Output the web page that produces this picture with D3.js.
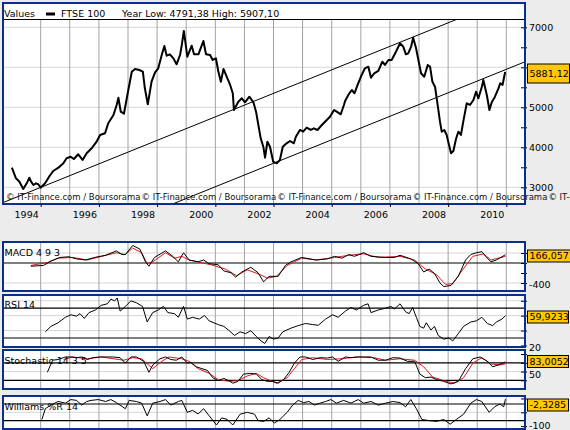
<!DOCTYPE html>
<html>
<head>
<meta charset="utf-8">
<script src="https://cdn.jsdelivr.net/npm/d3@7"></script>
<style>
  body { margin: 0; background: #ececec; }
  svg { display: block; font-family: "DejaVu Sans", sans-serif; }
  .tick text { font-family: "DejaVu Sans", sans-serif; font-size: 9.5px; fill: #000; }
</style>
</head>
<body>
<script>
// dates are decimal years
const priceDates = [1994.01,1994.15,1994.27,1994.40,1994.52,1994.61,1994.67,1994.75,1994.84,1994.92,
  1995.00,1995.15,1995.29,1995.43,1995.61,1995.78,1995.89,1996.03,1996.14,1996.29,1996.44,1996.58,1996.75,1996.92,
  1997.04,1997.21,1997.32,1997.50,1997.61,1997.67,1997.75,1997.86,1997.99,1998.13,1998.24,1998.39,1998.51,1998.58,
  1998.68,1998.81,1998.93,1999.04,1999.16,1999.25,1999.33,1999.44,1999.56,1999.67,1999.79,1999.85,1999.92,2000.04,
  2000.19,2000.27,2000.42,2000.59,2000.68,2000.82,2000.91,2001.02,2001.10,2001.19,2001.28,2001.39,2001.51,2001.60,
  2001.64,2001.79,2001.91,2002.02,2002.17,2002.31,2002.40,2002.48,2002.56,2002.65,2002.71,2002.79,2002.88,2002.99,
  2003.11,2003.22,2003.32,2003.45,2003.57,2003.70,2003.77,2003.91,2004.02,2004.14,2004.28,2004.39,2004.51,2004.66,
  2004.83,2004.94,2005.08,2005.17,2005.31,2005.42,2005.46,2005.57,2005.63,2005.69,2005.78,2005.89,2006.03,2006.14,
  2006.26,2006.35,2006.46,2006.60,2006.74,2006.83,2006.95,2007.06,2007.20,2007.35,2007.46,2007.55,2007.63,2007.73,
  2007.80,2007.90,2007.98,2008.07,2008.18,2008.30,2008.38,2008.46,2008.55,2008.64,2008.72,2008.78,2008.87,2008.95,
  2009.03,2009.10,2009.18,2009.27,2009.35,2009.44,2009.52,2009.64,2009.75,2009.87,2009.96,2010.04,2010.16,2010.21,
  2010.33,2010.42,2010.50,2010.61,2010.73,2010.79,2010.87,2010.96];
const priceValues = [3490,3225,3140,2958,3100,3240,3140,3058,3100,3075,
  2990,3100,3265,3408,3490,3600,3725,3765,3708,3825,3683,3850,3975,4140,
  4308,4350,4600,4808,5058,5240,4890,4840,5350,5890,5958,5933,5890,5475,
  5075,5640,5875,5975,6308,6533,6290,6325,6225,6075,6308,6558,6908,6265,
  6540,6325,6325,6658,6325,6308,6183,6225,5908,5640,5958,5765,5558,5350,
  4933,5140,5225,5125,5265,5125,4890,4558,4225,4015,3740,4140,4015,3640,
  3600,3683,4015,4100,4158,4100,4265,4433,4390,4490,4433,4475,4433,4558,
  4683,4765,4933,4890,4825,5058,5158,5308,5375,5433,5350,5558,5808,5975,
  6015,5740,5850,5908,6140,6058,6183,6183,6375,6600,6515,6325,6350,6515,
  6740,6475,6183,5850,5765,6058,6015,5640,5515,5058,4640,4390,4433,4308,
  4058,3850,3908,4208,4390,4308,4640,5100,5058,5183,5390,5225,5515,5683,
  5308,4933,5125,5265,5475,5600,5558,5881.12];
const yearLow = 4791.38, yearHigh = 5907.10;

// trend channel, two points each [date, value]
const channelUpper = [[1993.70, 2616], [2009.41, 7232]];
const channelLower = [[1999.44, 2555], [2011.65, 6140]];

const macdDates = [1994.66,1995.10,1995.35,1995.66,1995.97,1996.23,1996.54,1996.85,1997.23,1997.60,1997.79,1997.91,
  1998.16,1998.41,1998.60,1998.72,1998.91,1999.29,1999.54,1999.73,1999.91,2000.10,2000.41,2000.60,2000.78,2001.10,
  2001.29,2001.54,2001.70,2001.91,2002.22,2002.47,2002.66,2002.85,2003.16,2003.41,2003.60,2003.97,2004.47,2004.85,
  2005.10,2005.35,2005.59,2005.78,2006.10,2006.35,2006.85,2007.16,2007.35,2007.72,2007.97,2008.16,2008.35,2008.53,
  2008.72,2008.85,2009.10,2009.35,2009.60,2009.78,2009.97,2010.16,2010.29,2010.47,2010.66,2010.97];
const macdValues = [-64,-49,38,111,125,82,60,111,155,242,169,169,
  351,278,24,-64,111,242,133,24,205,60,24,60,-13,-35,
  -158,-195,-282,-180,-85,-195,-376,-267,-267,-49,24,111,60,82,
  133,96,169,133,205,133,111,111,155,82,-13,-180,-122,-209,
  -398,-471,-449,-267,60,169,205,227,133,24,60,166.0571];
const signalDates = [1994.66,1995.23,1995.60,1996.10,1996.60,1997.10,1997.60,1997.91,1998.16,1998.47,1998.66,1998.85,
  1999.29,1999.60,1999.85,2000.10,2000.85,2001.35,2001.73,2002.10,2002.54,2002.79,2003.10,2003.47,2003.97,2004.47,
  2005.10,2005.59,2006.10,2006.60,2007.35,2007.85,2008.22,2008.60,2008.91,2009.16,2009.47,2009.85,2010.22,2010.47,2010.97];
const signalValues = [-49,9,96,111,60,133,205,169,300,205,-13,24,
  205,96,133,60,-35,-122,-253,-136,-231,-304,-267,-49,96,60,
  111,155,184,111,133,60,-122,-231,-427,-413,-158,133,184,60,133];

const rsiDates = [1995.16,1995.35,1995.60,1995.85,1996.04,1996.23,1996.35,1996.50,1996.66,1996.88,1997.08,1997.29,
  1997.41,1997.54,1997.63,1997.73,1997.91,1998.10,1998.29,1998.50,1998.66,1998.85,1999.04,1999.22,1999.37,1999.60,
  1999.73,1999.91,2000.04,2000.22,2000.45,2000.63,2000.79,2001.10,2001.29,2001.45,2001.66,2001.85,2002.04,2002.22,
  2002.41,2002.57,2002.70,2002.85,2003.00,2003.16,2003.32,2003.60,2003.85,2004.10,2004.35,2004.54,2004.79,2005.03,
  2005.22,2005.47,2005.66,2005.85,2006.10,2006.25,2006.35,2006.60,2006.85,2007.03,2007.16,2007.35,2007.54,2007.66,
  2007.78,2007.91,2008.03,2008.16,2008.25,2008.41,2008.53,2008.66,2008.85,2009.03,2009.16,2009.35,2009.53,2009.78,
  2009.97,2010.16,2010.35,2010.53,2010.66,2010.85,2010.97];
const rsiValues = [38.3,45.6,50.5,57.8,61.2,59.3,62.7,56.3,64.1,67.6,73.9,75.9,
  82.2,79.8,83.7,66.1,72.4,79.8,77.3,72.4,51.5,64.1,67.6,72.4,64.1,62.7,
  57.8,72.4,55.4,57.8,55.4,60.2,52.9,48.0,45.6,40.7,33.4,38.3,35.9,39.8,
  32.0,26.1,22.7,32.0,28.5,30.0,38.3,43.2,46.6,49.5,48.0,47.1,55.4,61.2,
  57.8,66.1,71.0,67.6,73.9,75.9,64.1,67.6,70.0,72.4,69.0,75.9,65.1,62.7,
  71.0,57.8,45.6,43.2,50.5,40.7,45.6,33.4,28.5,30.0,26.1,35.9,45.6,51.5,
  53.0,57.8,49.5,46.6,51.5,55.4,59.9233];

const stochKDates = [1995.23,1995.41,1995.60,1995.85,1996.04,1996.23,1996.41,1996.60,1996.79,1997.04,1997.23,1997.47,
  1997.73,1997.91,1998.10,1998.29,1998.54,1998.72,1998.85,1999.10,1999.29,1999.47,1999.66,1999.85,2000.04,2000.16,
  2000.35,2000.54,2000.73,2000.91,2001.10,2001.29,2001.47,2001.60,2001.78,2001.97,2002.22,2002.41,2002.60,2002.79,
  2002.97,2003.16,2003.35,2003.54,2003.72,2003.91,2004.10,2004.35,2004.60,2004.85,2005.03,2005.22,2005.47,2005.66,
  2005.91,2006.10,2006.35,2006.60,2006.85,2007.10,2007.35,2007.60,2007.85,2008.03,2008.22,2008.41,2008.60,2008.85,
  2009.10,2009.35,2009.60,2009.85,2010.10,2010.35,2010.53,2010.72,2010.97];
const stochKValues = [47.5,88.8,91.3,100,100,97.5,100,91.3,97.5,100,100,100,
  97.5,78.8,100,100,85,47.5,72.5,93.8,100,91.3,88.8,100,78.8,81.3,
  66.3,60,53.8,28.8,18.8,26.3,18.8,10,16.3,41.3,43.8,41.3,22.5,16.3,
  16.3,10,22.5,47.5,78.8,100,100,91.3,97.5,96.3,100,85,100,97.5,
  100,100,100,88.8,88.8,97.5,96.3,85,85,41.3,28.8,31.3,22.5,16.3,
  7.5,16.3,60,93.8,100,85,66.3,72.5,83.0052];
const stochDDates = [1995.79,1996.10,1996.60,1997.08,1997.85,1998.16,1998.47,1998.85,1999.16,1999.41,1999.85,2000.10,
  2000.41,2000.79,2001.10,2001.47,2001.78,2002.10,2002.41,2002.66,2003.10,2003.47,2003.72,2003.97,2004.35,2004.85,
  2005.35,2005.85,2006.47,2006.85,2007.35,2007.85,2008.16,2008.47,2008.85,2009.22,2009.53,2009.85,2010.16,2010.47,
  2010.78,2010.97];
const stochDValues = [91.3,100,93.8,100,88.8,97.5,93.8,60,85,100,93.8,85,
  60,43.8,22.5,16.3,18.8,35,43.8,28.8,10,28.8,60,91.3,97.5,91.3,
  93.8,100,97.5,88.8,93.8,88.8,66.3,31.3,18.8,10,28.8,78.8,97.5,76.3,
  72.5,76.3];

const willDates = [1995.04,1995.16,1995.35,1995.60,1995.85,1996.04,1996.23,1996.41,1996.58,1996.73,1996.98,1997.23,
  1997.41,1997.60,1997.91,1998.04,1998.29,1998.47,1998.66,1998.85,1999.10,1999.29,1999.47,1999.73,1999.85,2000.04,
  2000.22,2000.41,2000.60,2000.79,2001.04,2001.22,2001.41,2001.60,2001.85,2002.10,2002.35,2002.47,2002.66,2002.85,
  2003.03,2003.22,2003.47,2003.66,2003.85,2004.03,2004.22,2004.41,2004.60,2004.79,2004.97,2005.16,2005.41,2005.66,
  2005.91,2006.10,2006.35,2006.60,2006.85,2007.10,2007.35,2007.54,2007.72,2007.91,2008.10,2008.35,2008.60,2008.85,
  2009.07,2009.28,2009.53,2009.78,2009.97,2010.16,2010.41,2010.60,2010.78,2010.91,2010.97];
const willValues = [-76,-37,-24,-11,-17,-4,-7,-24,-11,-7,-4,-11,
  -4,-15,-37,-7,-11,-17,-63,-17,-11,-4,-24,-11,-7,-50,
  -43,-56,-37,-63,-96,-70,-76,-96,-57,-50,-57,-80,-83,-70,
  -89,-76,-50,-24,-7,-15,-11,-24,-17,-11,-4,-17,-7,-17,
  -4,-17,-11,-24,-17,-11,-15,-30,-4,-37,-76,-80,-83,-76,
  -93,-76,-57,-17,-4,-11,-50,-30,-20,-30,-2.3285];

const mainTicks = [3000, 3500, 4000, 4500, 5000, 5500, 6000, 6500, 7000];
const mainGrid = [3000, 4000, 5000, 6000, 7000];
const mainLabels = [3000, 4000, 5000, 7000]; // 6000 sits under the value box
const gridYears = d3.range(1995, 2012);
const tickYears = [1995, 1997, 1999, 2001, 2003, 2005, 2007, 2009, 2011];
const labelYears = [1994, 1996, 1998, 2000, 2002, 2004, 2006, 2008, 2010];

const blue = "#0c2f8e", gold = "#ffc800", red = "#e0191b";
const L = 3, R = 525;

const toDate = t => {
  const y = Math.floor(t), a = Date.UTC(y, 0, 1), b = Date.UTC(y + 1, 0, 1);
  return new Date(a + (t - y) * (b - a));
};
const zip = (ds, vs) => ds.map((d, i) => [toDate(d), vs[i]]);
const comma = (v, n) => v.toFixed(n).replace(".", ",");

const svg = d3.select("body").append("svg").attr("width", 570).attr("height", 430);

const x = d3.scaleUtc().domain([toDate(1994), toDate(2011)]).range([11.6, 506.3]);

// draws a framed panel, returns group clipped to plot area
function panel(id, top, plotTop, bottom, y, opt) {
  svg.append("rect").attr("x", L).attr("y", top).attr("width", R - L).attr("height", bottom - top).attr("fill", "#fff");
  svg.append("clipPath").attr("id", id)
    .append("rect").attr("x", L).attr("y", plotTop).attr("width", R - L).attr("height", bottom - plotTop);

  const g = svg.append("g");
  g.selectAll(".hg").data(opt.grid).join("line")
    .attr("x1", L).attr("x2", R).attr("y1", d => y(d)).attr("y2", d => y(d))
    .attr("stroke", "#d6d6d6");
  g.selectAll(".vg").data(gridYears).join("line")
    .attr("x1", d => x(toDate(d))).attr("x2", d => x(toDate(d)))
    .attr("y1", plotTop).attr("y2", bottom)
    .attr("stroke", "#a3a3a3");
  g.selectAll(".lv").data(opt.levels || []).join("line")
    .attr("x1", L).attr("x2", R).attr("y1", d => y(d)).attr("y2", d => y(d))
    .attr("stroke", "#000").attr("stroke-width", 1.2);

  const plot = svg.append("g").attr("clip-path", `url(#${id})`);

  // right axis
  svg.append("g").attr("transform", `translate(${R - 4},0)`)
    .call(d3.axisRight(y).tickValues(opt.ticks).tickSize(6).tickPadding(2)
      .tickFormat(d => opt.labels.includes(d) ? d : ""))
    .call(a => a.select(".domain").remove())
    .call(a => a.selectAll(".tick text").attr("dy", opt.labelDy || "0.32em"));

  return plot;
}

function frame(top, bottom) {
  svg.append("rect").attr("x", L).attr("y", top).attr("width", R - L).attr("height", bottom - top)
    .attr("fill", "none").attr("stroke", blue).attr("stroke-width", 2);
}

function valueBox(yc, h, text, w) {
  svg.append("rect").attr("x", 527.5).attr("y", yc - h / 2).attr("width", w || 41).attr("height", h)
    .attr("fill", gold).attr("stroke", "#000");
  svg.append("text").attr("x", 529.5).attr("y", yc).attr("dy", "0.35em")
    .attr("font-size", 9.5).text(text);
}

function label(yb, text) {
  svg.append("text").attr("x", 4.5).attr("y", yb).attr("font-size", 9.5).text(text);
}

const line = (y) => d3.line().x(d => x(d[0])).y(d => y(d[1]));

// ---- main price panel
const yMain = d3.scaleLinear().domain([3000, 7000]).range([187.3, 27.3]);
const main = panel("clipMain", 3, 20, 204, yMain, { grid: mainGrid, ticks: mainTicks, labels: mainLabels });

main.selectAll(".chan").data([channelUpper, channelLower]).join("path")
  .attr("d", d => line(yMain)(d.map(p => [toDate(p[0]), p[1]])))
  .attr("fill", "none").attr("stroke", "#000").attr("stroke-width", 1);

main.append("path").datum(zip(priceDates, priceValues))
  .attr("d", line(yMain))
  .attr("fill", "none").attr("stroke", "#000").attr("stroke-width", 2).attr("stroke-linejoin", "round");

// watermark
d3.range(5).forEach(i => {
  svg.append("text").attr("x", 6 + i * 135.6).attr("y", 200).attr("font-size", 8.5)
    .attr("fill", "#111").text("\u00a9 IT-Finance.com / Boursorama");
});

// header
svg.append("line").attr("x1", L).attr("x2", R).attr("y1", 19.5).attr("y2", 19.5).attr("stroke", "#000");
svg.append("text").attr("x", 4).attr("y", 16.5).attr("font-size", 9.5).text("Values");
svg.append("rect").attr("x", 46).attr("y", 12.5).attr("width", 9).attr("height", 3).attr("fill", "#000");
svg.append("text").attr("x", 61).attr("y", 16.5).attr("font-size", 9.5).text("FTSE 100");
svg.append("text").attr("x", 122).attr("y", 16.5).attr("font-size", 9.5)
  .text(`Year Low: ${comma(yearLow, 2)} High: ${comma(yearHigh, 2)}`);

frame(3, 204);

// x axis
svg.append("g").attr("transform", "translate(0,204)")
  .call(d3.axisBottom(x).tickValues(tickYears.map(toDate)).tickSize(3).tickFormat(""))
  .call(a => a.select(".domain").remove());
svg.append("g").attr("transform", "translate(0,204)")
  .call(d3.axisBottom(x).tickValues(labelYears.map(d => toDate(d + 0.5))).tickSize(0).tickPadding(7)
    .tickFormat(d => d.getUTCFullYear()))
  .call(a => a.select(".domain").remove());

valueBox(73.5, 19, comma(priceValues[priceValues.length - 1], 2), 42);

// ---- MACD
const yMacd = d3.scaleLinear().domain([0, -400]).range([263, 283]);
const macd = panel("clipMacd", 242, 243, 291, yMacd,
  { grid: [200, -400], levels: [0], ticks: [200, 0, -200, -400], labels: [-400], labelDy: "0.5em" });
macd.append("path").datum(zip(signalDates, signalValues)).attr("d", line(yMacd))
  .attr("fill", "none").attr("stroke", red);
macd.append("path").datum(zip(macdDates, macdValues)).attr("d", line(yMacd))
  .attr("fill", "none").attr("stroke", "#000");
label(255.5, "MACD 4 9 3");
frame(242, 291);
valueBox(256, 12, comma(macdValues[macdValues.length - 1], 4), 50);

// ---- RSI
const yRsi = d3.scaleLinear().domain([70, 30]).range([308.2, 338]);
const rsi = panel("clipRsi", 295, 296, 347, yRsi,
  { grid: [80, 60, 40], levels: [70, 30], ticks: [20, 40, 60, 80], labels: [20], labelDy: "0.5em" });
rsi.append("path").datum(zip(rsiDates, rsiValues)).attr("d", line(yRsi))
  .attr("fill", "none").attr("stroke", "#000");
label(308, "RSI 14");
frame(295, 347);
valueBox(317, 12, comma(rsiValues[rsiValues.length - 1], 4));

// ---- Stochastic
const ySto = d3.scaleLinear().domain([80, 20]).range([362.8, 380.3]);
const sto = panel("clipSto", 350, 351, 389, ySto,
  { grid: [50], levels: [80, 20], ticks: [20, 50, 80, 110], labels: [50], labelDy: "0.6em" });
sto.append("path").datum(zip(stochDDates, stochDValues)).attr("d", line(ySto))
  .attr("fill", "none").attr("stroke", red);
sto.append("path").datum(zip(stochKDates, stochKValues)).attr("d", line(ySto))
  .attr("fill", "none").attr("stroke", "#000");
label(364, "Stochastic 14 3 5");
frame(350, 389);
valueBox(361.5, 12, comma(stochKValues[stochKValues.length - 1], 4));

// ---- Williams %R
const yWil = d3.scaleLinear().domain([-20, -80]).range([404, 420.6]);
const wil = panel("clipWil", 396, 397, 429, yWil,
  { grid: [-50], levels: [-20, -80], ticks: [0, -50, -100], labels: [-100], labelDy: "0.25em" });
wil.append("path").datum(zip(willDates, willValues)).attr("d", line(yWil))
  .attr("fill", "none").attr("stroke", "#000");
label(409.5, "Williams %R 14");
frame(396, 429);
valueBox(405, 12, comma(willValues[willValues.length - 1], 4));
</script>
</body>
</html>
